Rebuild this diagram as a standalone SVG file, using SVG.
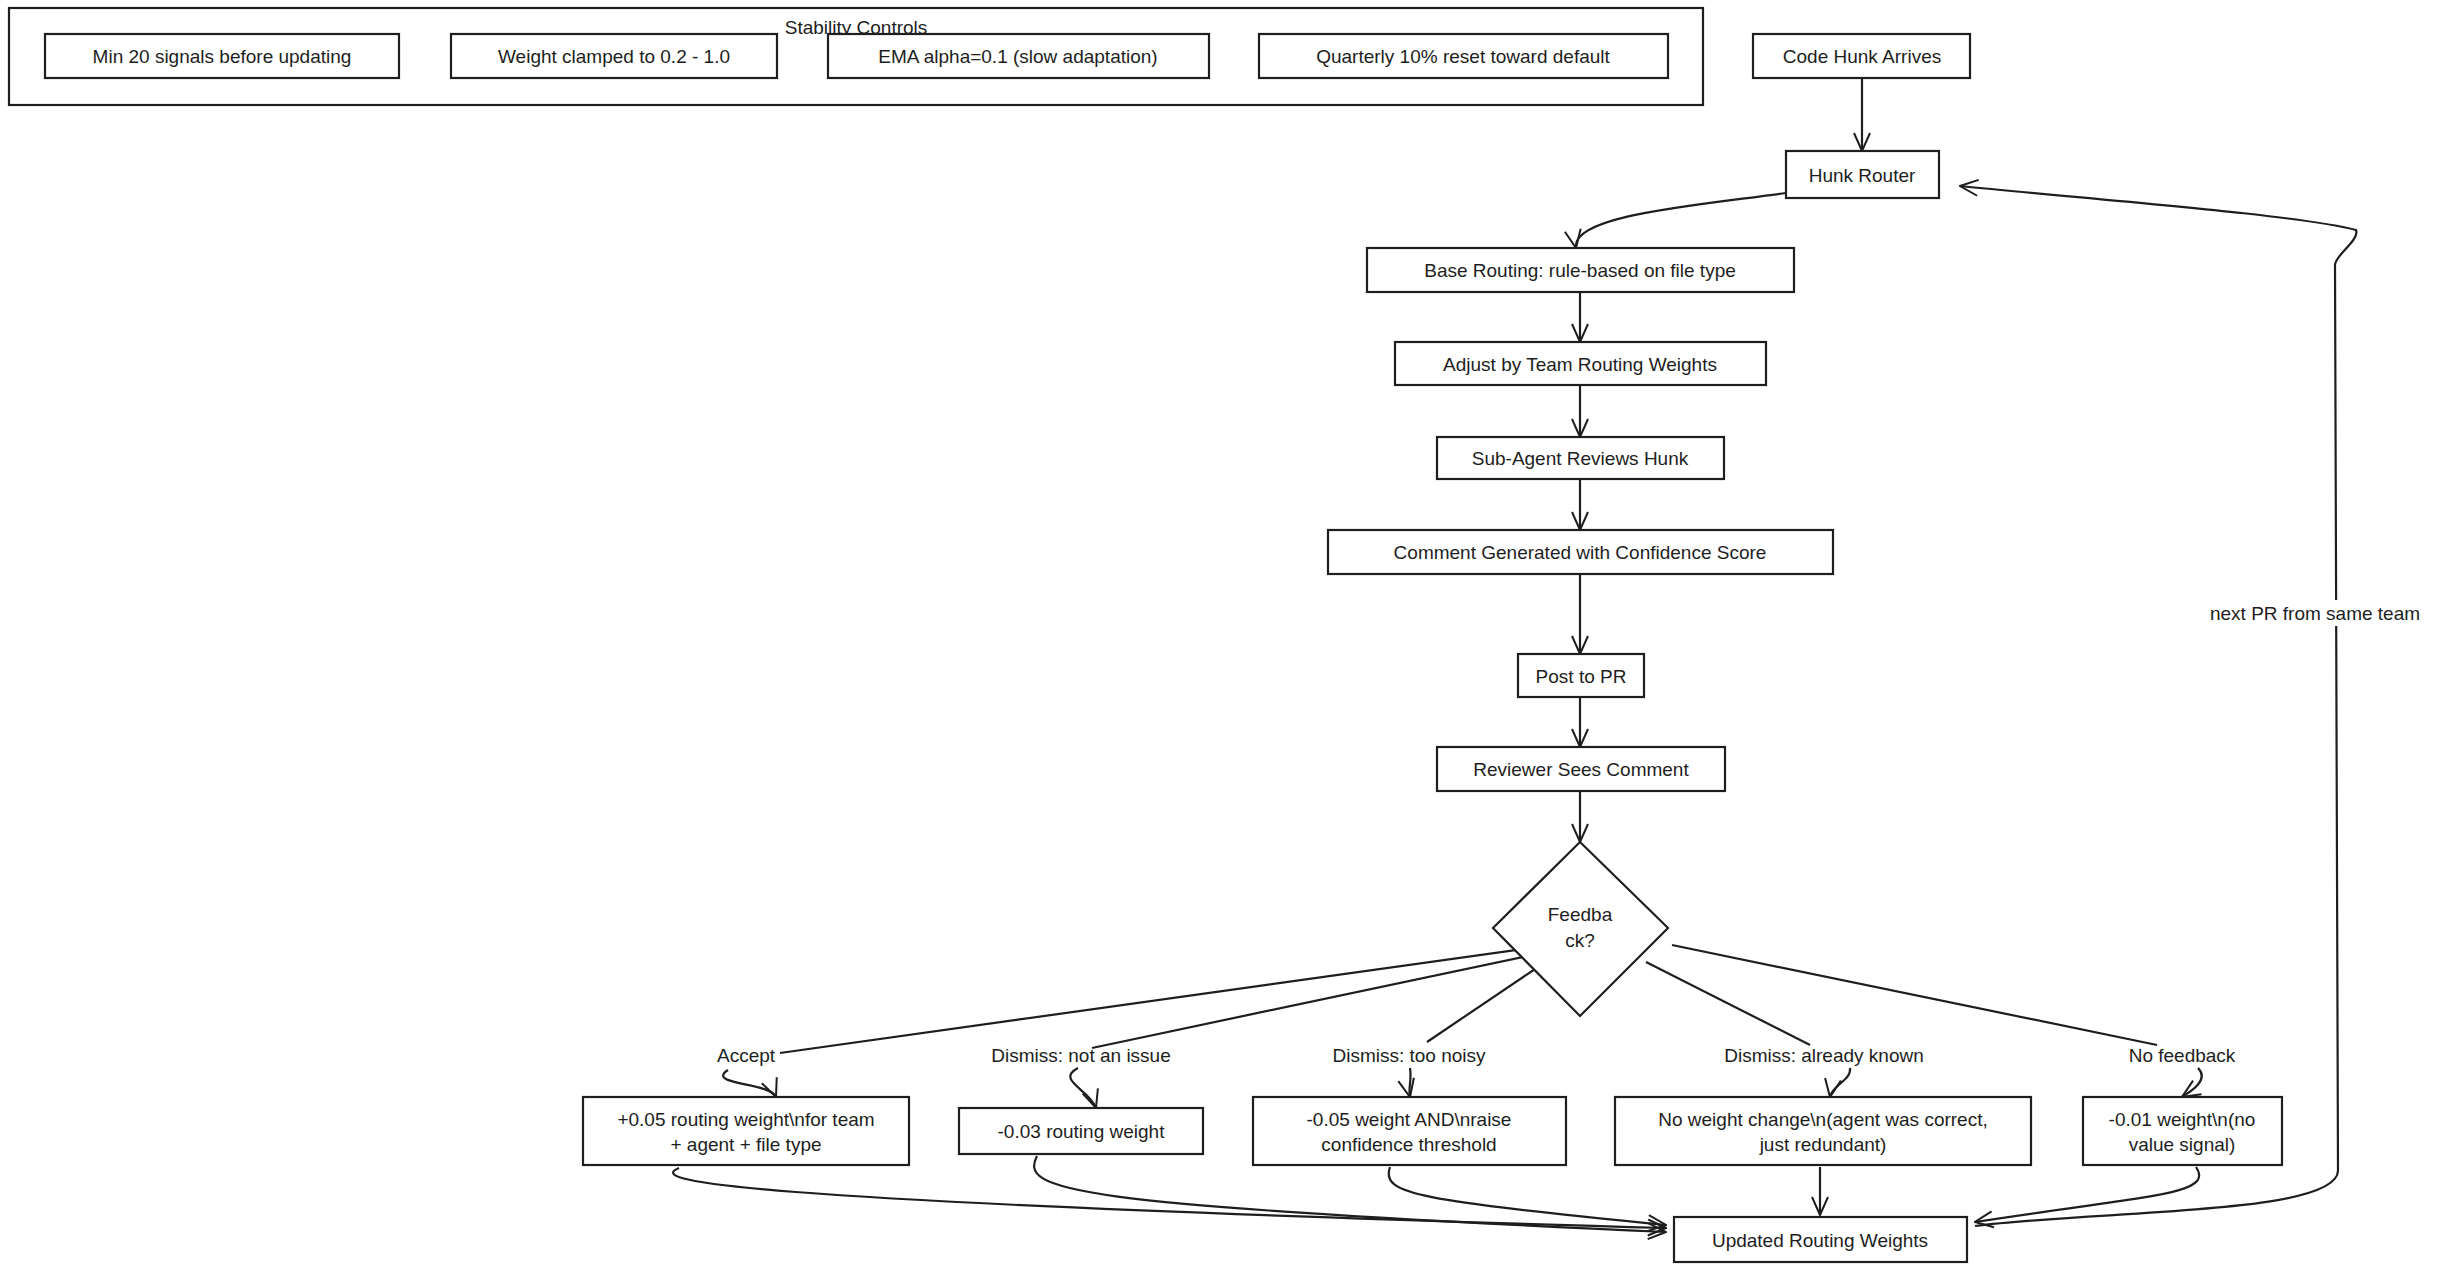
<svg xmlns="http://www.w3.org/2000/svg" width="2446" height="1271" viewBox="0 0 2446 1271">
<defs>
<marker id="ah" viewBox="0 0 20 20" refX="19" refY="10" markerWidth="20" markerHeight="20" markerUnits="userSpaceOnUse" orient="auto">
<path d="M1,2 L19,10 L1,18" fill="none" stroke="#1e1e1e" stroke-width="2"/>
</marker>
</defs>
<style>
text{font-family:"Liberation Sans",Arial,sans-serif;font-size:19px;fill:#1e1e1e;text-anchor:middle;dominant-baseline:central}
.n rect,.n polygon{fill:#fff;stroke:#1e1e1e;stroke-width:2.2}
.e path{fill:none;stroke:#1e1e1e;stroke-width:2.2}
.a{marker-end:url(#ah)}
</style>
<rect width="2446" height="1271" fill="#fff"/>
<g id="stability" class="n">
<rect x="9" y="8" width="1694" height="97"/>
<text x="856" y="27">Stability Controls</text>
</g>
<g id="s1" class="n"><rect x="45" y="34" width="354" height="44"/><text x="222" y="56">Min 20 signals before updating</text></g>
<g id="s2" class="n"><rect x="451" y="34" width="326" height="44"/><text x="614" y="56">Weight clamped to 0.2 - 1.0</text></g>
<g id="s3" class="n"><rect x="828" y="34" width="381" height="44"/><text x="1018" y="56">EMA alpha=0.1 (slow adaptation)</text></g>
<g id="s4" class="n"><rect x="1259" y="34" width="409" height="44"/><text x="1463" y="56">Quarterly 10% reset toward default</text></g>

<g class="e" id="edges">
<path class="a" d="M1862,78 L1862,151"/>
<path class="a" d="M1786,193 C1700,205 1570,215 1576,248"/>
<path class="a" d="M1580,292 L1580,342"/>
<path class="a" d="M1580,385 L1580,437"/>
<path class="a" d="M1580,479 L1580,530"/>
<path class="a" d="M1580,574 L1580,654"/>
<path class="a" d="M1580,697 L1580,747"/>
<path class="a" d="M1580,791 L1580,842"/>
<path d="M1537,947 L780,1053"/>
<path d="M1532,955 L1092,1048"/>
<path d="M1538,967 L1427,1042"/>
<path d="M1646,962 L1810,1045"/>
<path d="M1672,945 L2157,1045"/>
<path class="a" d="M728,1070 C705,1085 770,1082 776,1097"/>
<path class="a" d="M1078,1068 C1055,1080 1090,1090 1096,1108"/>
<path class="a" d="M1410,1068 C1412,1080 1408,1088 1410,1097"/>
<path class="a" d="M1850,1068 C1852,1080 1832,1085 1830,1097"/>
<path class="a" d="M2198,1068 C2210,1080 2190,1092 2182,1097"/>
<path class="a" d="M679,1168 C650,1180 690,1200 1666,1228"/>
<path class="a" d="M1037,1156 C1020,1190 1060,1205 1666,1232"/>
<path class="a" d="M1390,1167 C1380,1195 1420,1200 1666,1225"/>
<path class="a" d="M1820,1167 L1820,1215"/>
<path class="a" d="M2196,1167 C2215,1195 2150,1195 1975,1222"/>
<path class="a" d="M1975,1226 C2100,1210 2340,1215 2338,1170 L2335,265 C2335,255 2360,240 2356,230 C2300,215 2100,200 1960,186"/>
<rect x="2200" y="600" width="240" height="26" fill="#fff"/>
<text x="2315" y="613">next PR from same team</text>
<text x="746" y="1055">Accept</text>
<text x="1081" y="1055">Dismiss: not an issue</text>
<text x="1409" y="1055">Dismiss: too noisy</text>
<text x="1824" y="1055">Dismiss: already known</text>
<text x="2182" y="1055">No feedback</text>
</g>

<g id="code" class="n"><rect x="1753" y="34" width="217" height="44"/><text x="1862" y="56">Code Hunk Arrives</text></g>
<g id="router" class="n"><rect x="1786" y="151" width="153" height="47"/><text x="1862" y="175">Hunk Router</text></g>
<g id="base" class="n"><rect x="1367" y="248" width="427" height="44"/><text x="1580" y="270">Base Routing: rule-based on file type</text></g>
<g id="adjust" class="n"><rect x="1395" y="342" width="371" height="43"/><text x="1580" y="364">Adjust by Team Routing Weights</text></g>
<g id="sub" class="n"><rect x="1437" y="437" width="287" height="42"/><text x="1580" y="458">Sub-Agent Reviews Hunk</text></g>
<g id="comment" class="n"><rect x="1328" y="530" width="505" height="44"/><text x="1580" y="552">Comment Generated with Confidence Score</text></g>
<g id="post" class="n"><rect x="1518" y="654" width="126" height="43"/><text x="1581" y="676">Post to PR</text></g>
<g id="reviewer" class="n"><rect x="1437" y="747" width="288" height="44"/><text x="1581" y="769">Reviewer Sees Comment</text></g>
<g id="feedback" class="n"><polygon points="1580,842 1668,928 1580,1016 1493,928"/><text x="1580" y="914">Feedba</text><text x="1580" y="940">ck?</text></g>
<g id="r1" class="n"><rect x="583" y="1097" width="326" height="68"/><text x="746" y="1119">+0.05 routing weight\nfor team</text><text x="746" y="1144">+ agent + file type</text></g>
<g id="r2" class="n"><rect x="959" y="1108" width="244" height="46"/><text x="1081" y="1131">-0.03 routing weight</text></g>
<g id="r3" class="n"><rect x="1253" y="1097" width="313" height="68"/><text x="1409" y="1119">-0.05 weight AND\nraise</text><text x="1409" y="1144">confidence threshold</text></g>
<g id="r4" class="n"><rect x="1615" y="1097" width="416" height="68"/><text x="1823" y="1119">No weight change\n(agent was correct,</text><text x="1823" y="1144">just redundant)</text></g>
<g id="r5" class="n"><rect x="2083" y="1097" width="199" height="68"/><text x="2182" y="1119">-0.01 weight\n(no</text><text x="2182" y="1144">value signal)</text></g>
<g id="updated" class="n"><rect x="1674" y="1217" width="293" height="45"/><text x="1820" y="1240">Updated Routing Weights</text></g>
</svg>
